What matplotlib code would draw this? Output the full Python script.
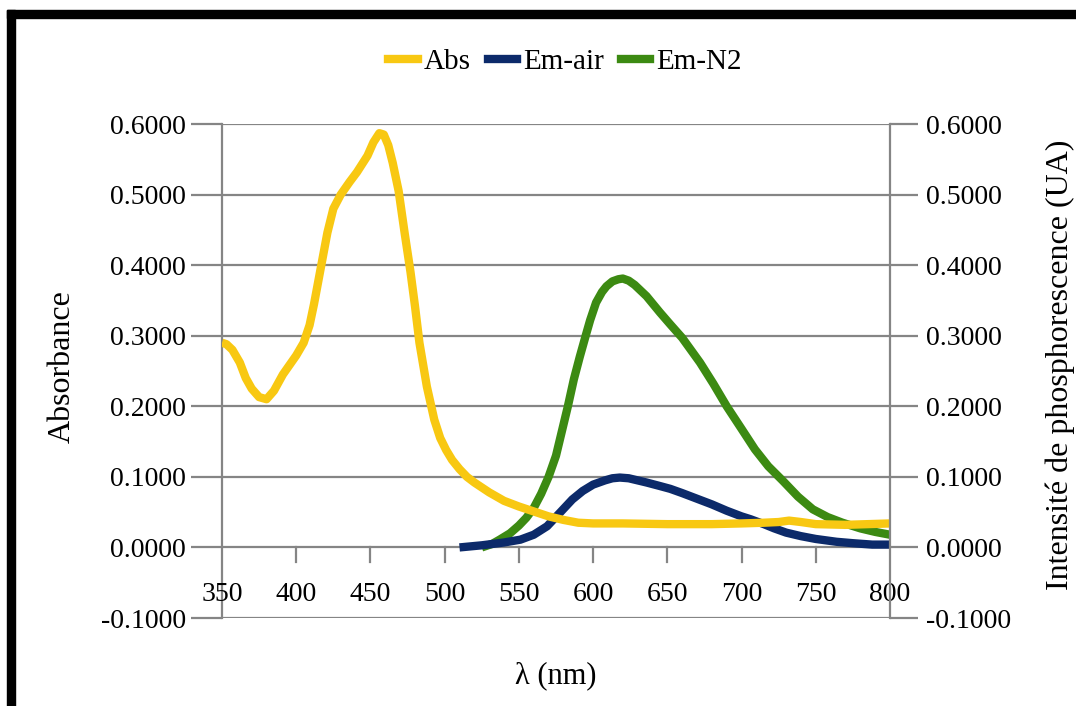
import matplotlib
matplotlib.use("Agg")
import matplotlib.pyplot as plt
from matplotlib.lines import Line2D
from matplotlib.patches import Rectangle
from matplotlib.transforms import blended_transform_factory

plt.rcParams['font.family'] = ['Liberation Serif', 'DejaVu Serif']

# ---- data ----
abs_wl = [350, 353, 357, 362, 366, 370, 375, 380, 385, 391, 396, 400, 405, 409, 412, 416,
          421, 425, 430, 436, 441, 448, 452, 456, 459, 462, 465, 469, 473, 477, 480, 483,
          488, 493, 497, 501, 505, 510, 515, 520, 525, 530, 535, 540, 550, 560, 570, 580,
          590, 600, 620, 650, 680, 700, 715, 725, 732, 740, 750, 770, 800]
abs_val = [0.290, 0.288, 0.280, 0.262, 0.240, 0.225, 0.213, 0.210, 0.222, 0.245, 0.260, 0.272,
           0.290, 0.315, 0.345, 0.390, 0.446, 0.480, 0.500, 0.518, 0.532, 0.555, 0.574, 0.587,
           0.585, 0.570, 0.545, 0.505, 0.446, 0.390, 0.342, 0.290, 0.228, 0.181, 0.155, 0.138,
           0.124, 0.111, 0.100, 0.092, 0.085, 0.078, 0.072, 0.066, 0.058, 0.051, 0.044, 0.039,
           0.035, 0.034, 0.034, 0.033, 0.033, 0.034, 0.035, 0.036, 0.038, 0.036, 0.033, 0.032, 0.034]

air_wl = [510, 525, 540, 551, 560, 569, 578, 586, 593, 600, 608, 613, 618, 624, 630, 636,
          645, 652, 660, 670, 680, 690, 700, 706, 715, 722, 730, 740, 750, 764, 775, 788, 800]
air_val = [0.000, 0.003, 0.007, 0.011, 0.018, 0.030, 0.050, 0.068, 0.080, 0.089, 0.095, 0.098,
           0.099, 0.098, 0.095, 0.092, 0.087, 0.083, 0.077, 0.069, 0.061, 0.052, 0.044, 0.040,
           0.033, 0.027, 0.021, 0.016, 0.012, 0.008, 0.006, 0.004, 0.004]

n2_wl = [525, 532, 537, 544, 550, 555, 560, 565, 570, 575, 579, 583, 587, 591, 595, 598,
         602, 606, 609, 613, 617, 620, 624, 628, 636, 645, 652, 660, 672, 681, 690, 700,
         709, 718, 728, 738, 748, 758, 768, 780, 790, 800]
n2_val = [0.000, 0.005, 0.011, 0.020, 0.031, 0.042, 0.056, 0.076, 0.100, 0.130, 0.165, 0.200,
          0.238, 0.270, 0.300, 0.322, 0.347, 0.362, 0.370, 0.377, 0.380, 0.381, 0.378, 0.372,
          0.356, 0.333, 0.316, 0.297, 0.262, 0.232, 0.200, 0.168, 0.139, 0.115, 0.094, 0.072,
          0.054, 0.043, 0.035, 0.027, 0.022, 0.018]

x_ticks = [350, 400, 450, 500, 550, 600, 650, 700, 750, 800]
y_ticks = [-0.1, 0.0, 0.1, 0.2, 0.3, 0.4, 0.5, 0.6]

c_abs = '#F8C812'
c_air = '#0C2A6A'
c_n2 = '#3C8A12'
grid_c = '#858585'

fig = plt.figure(figsize=(10.76, 7.06), dpi=100)
ax = fig.add_axes([222/1076, 1-618/706, (890-222)/1076, (618-124)/706])
ax2 = ax.twinx()

lw = 6
for xs, ys, c, z in ((abs_wl, abs_val, c_abs, 5), (air_wl, air_val, c_air, 4), (n2_wl, n2_val, c_n2, 3)):
    ax.plot(xs, ys, color=c, lw=lw, solid_capstyle='butt', solid_joinstyle='round', zorder=z)

ax.set_xlim(350, 800)
ax.set_ylim(-0.1, 0.6)
ax2.set_ylim(-0.1, 0.6)

for yv in y_ticks:
    ax.axhline(yv, color=grid_c, lw=1.6, zorder=1)

for a in (ax, ax2):
    for s in ('top', 'bottom'):
        a.spines[s].set_visible(False)
    for s in ('left', 'right'):
        a.spines[s].set_color(grid_c)
        a.spines[s].set_linewidth(1.6)
ax.spines['right'].set_visible(False)
ax2.spines['left'].set_visible(False)

fmt = lambda v: f"{v:.4f}"
ax.set_yticks(y_ticks)
ax.set_yticklabels([fmt(v) for v in y_ticks])
ax2.set_yticks(y_ticks)
ax2.set_yticklabels([fmt(v) for v in y_ticks])
ax.tick_params(axis='y', length=22, width=1.6, color=grid_c, labelsize=20, pad=4)
ax2.tick_params(axis='y', length=20, width=1.6, color=grid_c, labelsize=20, pad=6)

# x axis crossing at zero, labels between 0 and -0.1
ax.set_xticks(x_ticks)
ax.set_xticklabels([])
ax.xaxis.set_ticks_position('none')
for xv in x_ticks[1:-1]:
    ax.plot([xv, xv], [0.0, -0.021], color=grid_c, lw=1.6, zorder=1, clip_on=False)
tr = blended_transform_factory(ax.transData, ax.transData)
for xv in x_ticks:
    ax.text(xv, -0.067, str(xv), transform=tr, ha='center', va='center', fontsize=20, zorder=6)

fig.text(62/1076, 1-367/706, 'Absorbance', rotation=90, ha='center', va='center', fontsize=23)
fig.text(1060/1076, 1-365/706, 'Intensité de phosphorescence (UA)', rotation=90,
         ha='center', va='center', fontsize=23)
fig.text(556/1076, 1-676/706, 'λ (nm)', ha='center', va='center', fontsize=22)

handles = [Line2D([0], [0], color=c, lw=6) for c in (c_abs, c_air, c_n2)]
fig.legend(handles, ['Abs', 'Em-air', 'Em-N2'], loc='center', bbox_to_anchor=(565/1076, 1-62/706),
           ncol=3, frameon=False, fontsize=21, handlelength=1.0, handletextpad=0.2,
           columnspacing=0.6)

# black frame (top and left)
fig.add_artist(Rectangle((7/1076, 1-18/706), 1-7/1076, 8/706, transform=fig.transFigure,
                         color='black', zorder=10))
fig.add_artist(Rectangle((7/1076, 0), 8/1076, 1-10/706, transform=fig.transFigure,
                         color='black', zorder=10))

fig.savefig('out.png', dpi=100)
